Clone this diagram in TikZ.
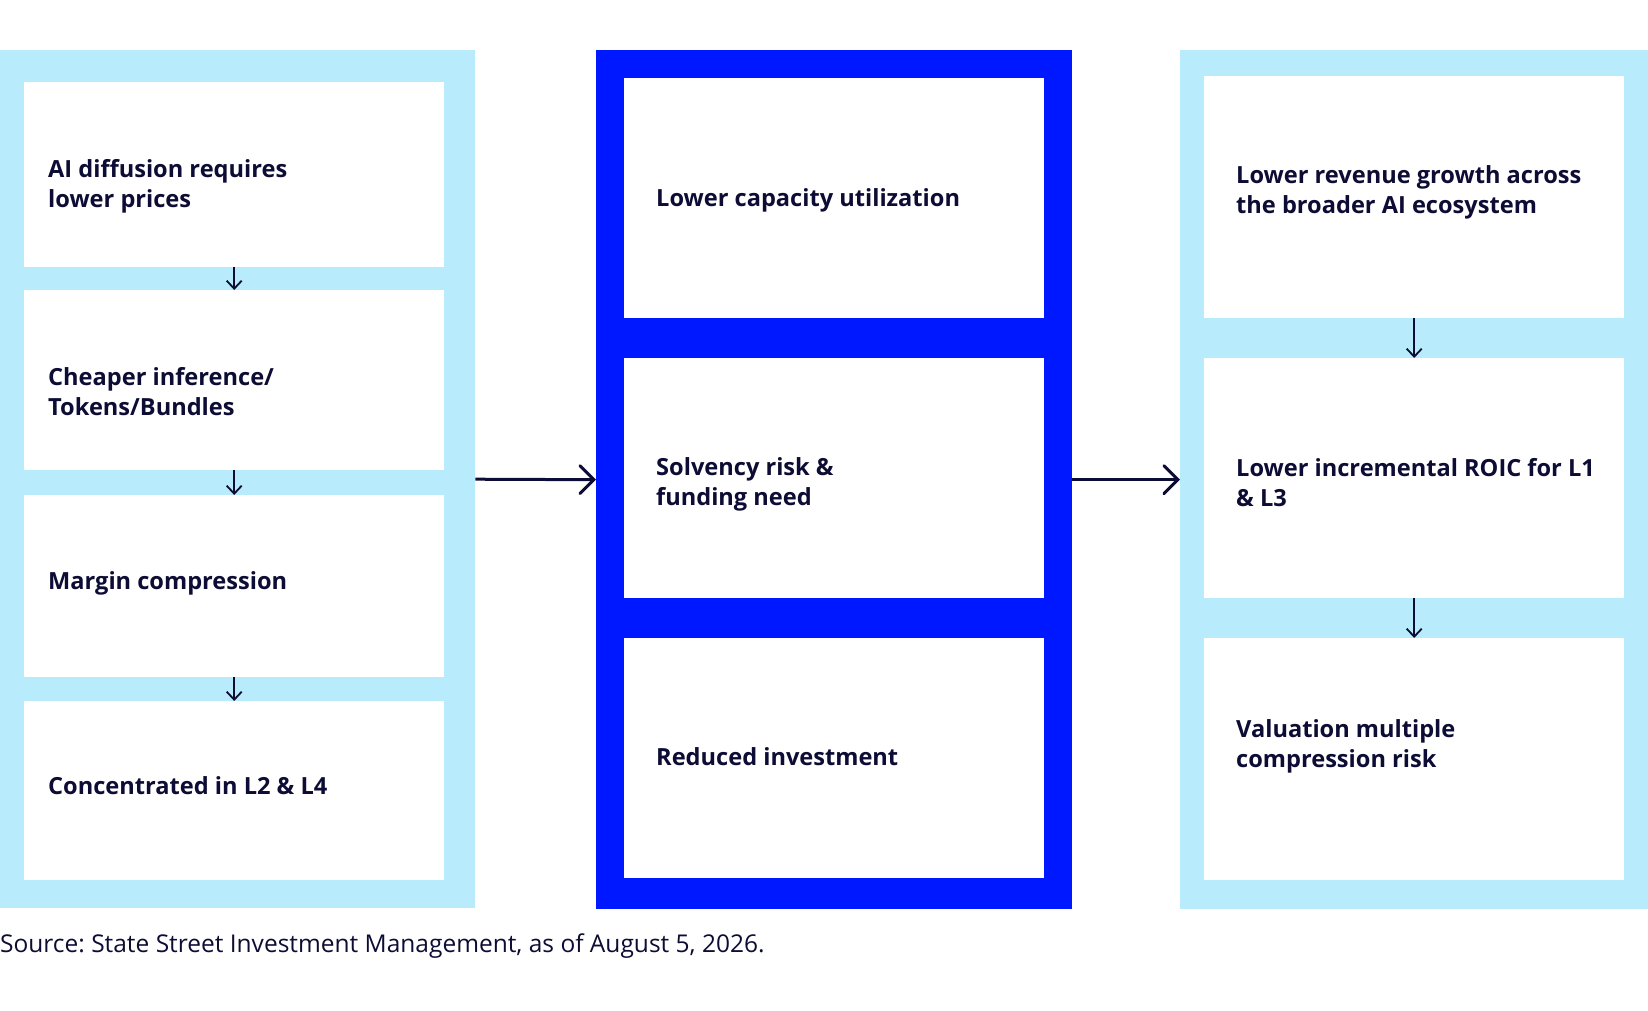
\documentclass[tikz,border=0pt]{standalone}
\usepackage{fontspec}
\setmainfont{Open Sans}
\usetikzlibrary{arrows.meta}
\definecolor{lightpanel}{RGB}{184,235,251}
\definecolor{bluepanel}{RGB}{0,24,255}
\definecolor{navy}{RGB}{12,12,52}
\frenchspacing
\begin{document}
\begin{tikzpicture}[x=1pt,y=-1pt,
  panelbox/.style={fill=#1, draw=none, inner sep=0, anchor=north west},
  card/.style={fill=white, draw=none, inner sep=0, anchor=north west, minimum width=420pt},
  lbl/.style={anchor=base west, inner sep=0, text=navy, font=\fontsize{23.6}{30}\selectfont\bfseries},
  bigarrow/.style={draw=navy, line width=3pt, -{Straight Barb[length=14pt,width=28pt,line cap=round]}},
  smallarrow/.style={draw=navy, line width=1.8pt, -{Straight Barb[length=8pt,width=15pt]}},
]
\useasboundingbox (0,0) rectangle (1648,1010);
% panels
\node[panelbox=lightpanel, minimum width=475pt, minimum height=858pt] (lp) at (0,50) {};
\node[panelbox=bluepanel, minimum width=476pt, minimum height=859pt] (mp) at (596,50) {};
\node[panelbox=lightpanel, minimum width=468pt, minimum height=859pt] (rp) at (1180,50) {};
% left cards
\node[card, minimum height=185pt] (l1) at (24,82) {};
\node[card, minimum height=180pt] (l2) at (24,290) {};
\node[card, minimum height=182pt] (l3) at (24,495) {};
\node[card, minimum height=179pt] (l4) at (24,701) {};
% middle cards
\node[card, minimum height=240pt] (m1) at (624,78) {};
\node[card, minimum height=240pt] (m2) at (624,358) {};
\node[card, minimum height=240pt] (m3) at (624,638) {};
% right cards
\node[card, minimum height=242pt] (r1) at (1204,76) {};
\node[card, minimum height=240pt] (r2) at (1204,358) {};
\node[card, minimum height=242pt] (r3) at (1204,638) {};
% texts
\node[lbl] (tl1) at (48,177) {\begin{tabular}[t]{@{}l@{}}AI diffusion requires\\lower prices\end{tabular}};
\node[lbl] (tl2) at (48,385) {\begin{tabular}[t]{@{}l@{}}Cheaper inference/\\Tokens/Bundles\end{tabular}};
\node[lbl] (tl3) at (48,589) {Margin compression};
\node[lbl] (tl4) at (48,794) {Concentrated in L2 \& L4};
\node[lbl] (tm1) at (656,206) {Lower capacity utilization};
\node[lbl] (tm2) at (656,475) {\begin{tabular}[t]{@{}l@{}}Solvency risk \&\\funding need\end{tabular}};
\node[lbl] (tm3) at (656,765) {Reduced investment};
\node[lbl] (tr1) at (1236,183) {\begin{tabular}[t]{@{}l@{}}Lower revenue growth across\\the broader AI ecosystem\end{tabular}};
\node[lbl] (tr2) at (1236,476) {\begin{tabular}[t]{@{}l@{}}Lower incremental ROIC for L1\\\& L3\end{tabular}};
\node[lbl] (tr3) at (1236,737) {\begin{tabular}[t]{@{}l@{}}Valuation multiple\\compression risk\end{tabular}};
\node[anchor=base west, inner sep=0, text=navy, font=\fontsize{24.5}{30}\selectfont] (src) at (0,952) {Source: State Street Investment Management, as of August 5, 2026.};
% arrows
\draw[smallarrow] (l1.south) -- (l2.north);
\draw[smallarrow] (l2.south) -- (l3.north);
\draw[smallarrow] (l3.south) -- (l4.north);
\draw[smallarrow] (r1.south) -- (r2.north);
\draw[smallarrow] (r2.south) -- (r3.north);
\draw[bigarrow] (lp.east) -- (mp.west);
\draw[bigarrow] (mp.east) -- (rp.west);
\end{tikzpicture}
\end{document}
